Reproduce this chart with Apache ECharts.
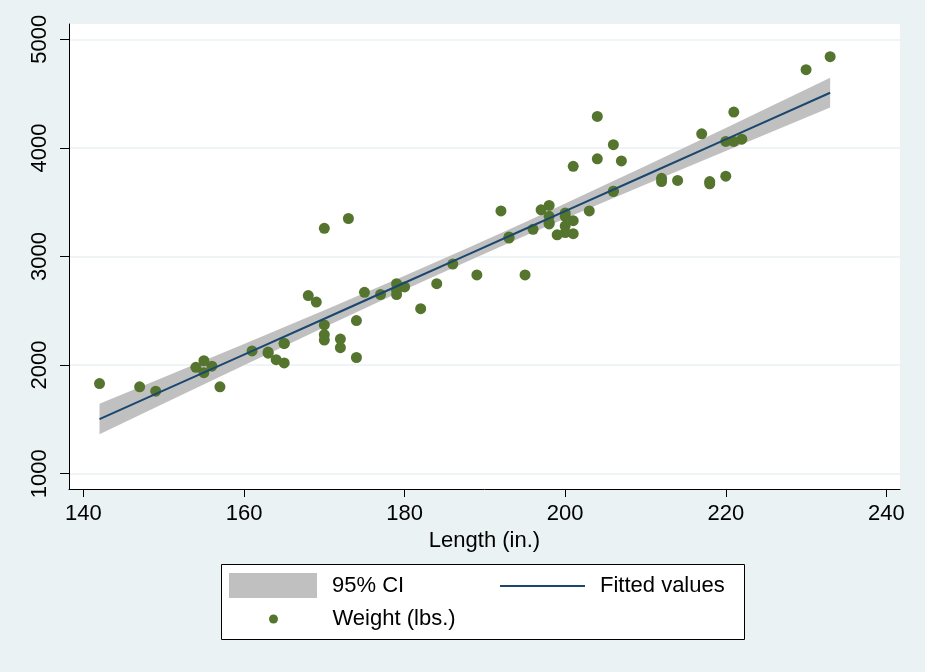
<!DOCTYPE html>
<html lang="en">
<head>
    <meta charset="UTF-8">
    <title>Weight vs Length</title>
    <script type="text/javascript" src="https://cdn.jsdelivr.net/npm/echarts@6/dist/echarts.min.js"></script>
    <style>
        html, body {margin: 0; padding: 0; background: #EAF2F3;}
        #chart {width: 925px; height: 672px;}
    </style>
</head>
<body>
<div id="chart"></div>
<script>
    // auto data: length (in.) and weight (lbs.)
    var lengthIn = [186, 173, 168, 196, 222, 218, 170, 200, 207, 200, 221, 204, 204, 163, 212, 193, 200, 179, 197,
        163, 206, 206, 220, 147, 179, 233, 230, 201, 169, 221, 212, 198, 217, 195, 220, 198, 198, 218, 200, 180,
        206, 170, 157, 165, 182, 201, 214, 198, 201, 199, 203, 179, 189, 174, 177, 170, 165, 170, 184, 161, 172,
        149, 154, 192, 142, 164, 174, 165, 175, 172, 155, 155, 156, 193];
    var weightLbs = [2930, 3350, 2640, 3250, 4080, 3670, 2230, 3280, 3880, 3400, 4330, 3900, 4290, 2110, 3690, 3180,
        3220, 2750, 3430, 2120, 3600, 3600, 3740, 1800, 2650, 4840, 4720, 3830, 2580, 4060, 3720, 3370, 4130, 2830,
        4060, 3310, 3300, 3690, 3370, 2720, 4030, 3260, 1800, 2200, 2520, 3330, 3700, 3470, 3210, 3200, 3420, 2690,
        2830, 2070, 2650, 2370, 2020, 2280, 2750, 2130, 2240, 1760, 1980, 3420, 1830, 2050, 2410, 2200, 2670, 2160,
        2040, 1930, 1990, 3170];

    // fitted line and 95% CI
    var ciX = [142, 150, 160, 170, 180, 188, 195, 200, 210, 220, 233];
    var fitY = [1503, 1767, 2097, 2427, 2758, 3022, 3253, 3418, 3748, 4078, 4508];
    var ciLow = [1363, 1647, 1999, 2349, 2694, 2962, 3190, 3349, 3663, 3972, 4371];
    var ciHigh = [1643, 1887, 2195, 2505, 2822, 3082, 3316, 3487, 3833, 4184, 4645];

    var xTicks = [140, 160, 180, 200, 220, 240];
    var yTicks = [1000, 2000, 3000, 4000, 5000];

    var font = 'Liberation Sans, Arial, sans-serif';

    var chart = echarts.init(document.getElementById('chart'));

    var scatterData = [];
    for (var i = 0; i < lengthIn.length; i++) {
        scatterData.push([lengthIn[i], weightLbs[i]]);
    }
    var fitData = [];
    var ciData = [];
    for (var k = 0; k < ciX.length; k++) {
        fitData.push([ciX[k], fitY[k]]);
        ciData.push([ciX[k], ciLow[k], ciHigh[k]]);
    }

    var legendText = {fontSize: 22, color: '#000', fontFamily: font};

    var option = {
        backgroundColor: '#EAF2F3',
        animation: false,
        textStyle: {fontFamily: font},
        grid: {
            left: 69, right: 25, top: 24, bottom: 183,
            show: true, backgroundColor: '#fff', borderWidth: 0
        },
        xAxis: {
            type: 'value',
            min: 138.2, max: 241.7,
            name: 'Length (in.)',
            nameLocation: 'middle',
            nameGap: 38,
            nameTextStyle: {fontSize: 22, color: '#000', fontFamily: font},
            axisLine: {lineStyle: {color: '#000', width: 1}},
            axisTick: {length: 8, lineStyle: {color: '#000'}, customValues: xTicks},
            axisLabel: {fontSize: 22, color: '#000', margin: 14, customValues: xTicks, fontFamily: font},
            splitLine: {show: false}
        },
        yAxis: {
            type: 'value',
            min: 859, max: 5141,
            axisLine: {show: true, lineStyle: {color: '#000', width: 1}},
            axisTick: {show: true, length: 9, lineStyle: {color: '#000'}, customValues: yTicks},
            axisLabel: {
                fontSize: 22, color: '#000', rotate: 90, margin: 18, customValues: yTicks, fontFamily: font,
                formatter: function (v) { return String(v); }
            },
            splitLine: {show: true, lineStyle: {color: '#EAF2F3', width: 1.5}}
        },
        legend: [
            {
                left: 229, top: 573, padding: 0,
                itemWidth: 88, itemHeight: 25,
                selectedMode: false,
                data: [{name: '95% CI', icon: 'rect', textStyle: {padding: [0, 0, 0, 10]}}],
                textStyle: legendText
            },
            {
                // thin rect as the line key, text keeps it centred
                left: 500, top: 575, padding: 0,
                itemWidth: 85, itemHeight: 2,
                selectedMode: false,
                data: [{name: 'Fitted values', icon: 'rect', itemStyle: {color: '#1A476F'},
                    textStyle: {padding: [0, 0, 0, 10]}}],
                textStyle: legendText
            },
            {
                // bounding box starts at the dot, not at the key's left edge
                left: 269, top: 608, padding: 0,
                itemWidth: 88, itemHeight: 9,
                selectedMode: false,
                data: [{name: 'Weight (lbs.)', icon: 'circle', textStyle: {padding: [0, 0, 0, 10]}}],
                textStyle: legendText
            }
        ],
        graphic: [{
            type: 'rect',
            left: 221, top: 564,
            shape: {width: 523, height: 75},
            style: {fill: '#fff', stroke: '#000', lineWidth: 1},
            z: 0
        }],
        series: [
            {
                name: '95% CI',
                type: 'custom',
                data: ciData,
                encode: {x: 0, y: [1, 2]},
                itemStyle: {color: '#C0C0C0'},
                silent: true,
                renderItem: function (params, api) {
                    // whole band drawn once, as one polygon
                    if (params.dataIndex !== 0) return;
                    var pts = [];
                    for (var a = 0; a < ciX.length; a++) pts.push(api.coord([ciX[a], ciHigh[a]]));
                    for (var b = ciX.length - 1; b >= 0; b--) pts.push(api.coord([ciX[b], ciLow[b]]));
                    return {type: 'polygon', shape: {points: pts}, style: {fill: '#C0C0C0'}};
                }
            },
            {
                name: 'Fitted values',
                type: 'line',
                data: fitData,
                symbol: 'none',
                itemStyle: {color: '#1A476F'},
                lineStyle: {color: '#1A476F', width: 2},
                silent: true
            },
            {
                name: 'Weight (lbs.)',
                type: 'scatter',
                data: scatterData,
                symbol: 'circle',
                symbolSize: 11,
                itemStyle: {color: '#55752F', opacity: 1}
            }
        ]
    };

    chart.setOption(option);
</script>
</body>
</html>
